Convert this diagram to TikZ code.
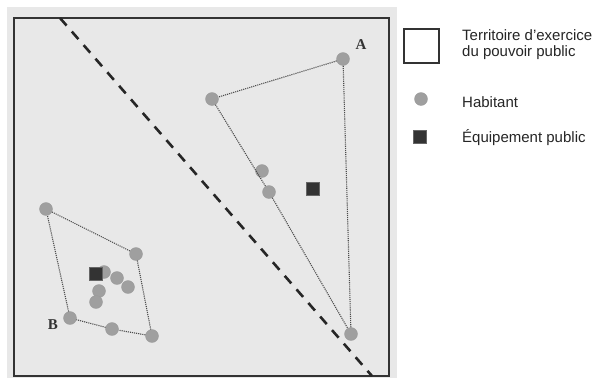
\documentclass[tikz,border=0pt]{standalone}
\usepackage{fontspec}
\setmainfont{Liberation Serif}
\newfontfamily\legendfont{Liberation Sans}
\begin{document}
\begin{tikzpicture}[x=1pt,y=-1pt,
  hab/.style={circle,fill=gray!75,draw=gray!80,line width=0.3pt,minimum size=13pt,inner sep=0pt},
  equip/.style={rectangle,fill=black!80,draw=black!60,minimum size=13pt,inner sep=0pt},
  link/.style={densely dotted,line width=1.1pt,black!70},
  lbl/.style={font=\fontsize{15}{17}\selectfont\bfseries,text=black!80},
  leg/.style={font=\legendfont\fontsize{15}{16}\selectfont,anchor=base west,align=left,inner sep=0pt,text=black!85}]
\useasboundingbox (0,0) rectangle (597,378);
\fill[white] (0,0) rectangle (597,378);
\fill[gray!18] (7,7) rectangle (397,378);
\draw[black!80,line width=2pt] (14,18) rectangle (389,376);
% dashed boundary
\coordinate (d1) at (60,18);
\coordinate (d2) at (372,376);
\draw[black!85,line width=2.6pt,dash pattern=on 10pt off 8pt] (d1) -- (d2);
% group A
\node[hab] (a1) at (343,59) {};
\node[hab] (a2) at (212,99) {};
\node[hab] (a3) at (262,171) {};
\node[hab] (a4) at (269,192) {};
\node[hab] (a5) at (351,334) {};
\node[equip] (ea) at (313,189) {};
\draw[link] (a1) -- (a2) -- (a4) -- (a5) -- (a1);
\node[lbl] (la) at (361,45) {A};
% group B
\node[hab] (b1) at (46,209) {};
\node[hab] (b2) at (136,254) {};
\node[hab] (b3) at (152,336) {};
\node[hab] (b4) at (112,329) {};
\node[hab] (b5) at (70,318) {};
\draw[link] (b1) -- (b2) -- (b3) -- (b4) -- (b5) -- (b1);
\node[hab] (b6) at (104,272) {};
\node[hab] (b7) at (117,278) {};
\node[hab] (b8) at (128,287) {};
\node[hab] (b9) at (99,291) {};
\node[hab] (b10) at (96,302) {};
\node[equip] (eb) at (96,274) {};
\node[lbl] (lb) at (53,325) {B};
% legend
\node[draw=black!80,fill=white,line width=2pt,minimum width=35pt,minimum height=34pt,inner sep=0pt] (lg1) at (421,46) {};
\node[leg] (lt1) at (462,56) {Territoire d’exercice\\du pouvoir public};
\node[hab] (lg2) at (421,99) {};
\node[leg] (lt2) at (462,107) {Habitant};
\node[equip] (lg3) at (420,137) {};
\node[leg] (lt3) at (462,142) {Équipement public};
\end{tikzpicture}
\end{document}
